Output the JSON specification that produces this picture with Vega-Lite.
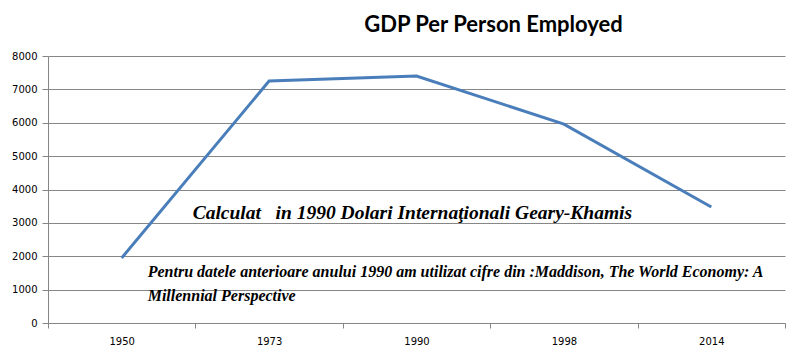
{
  "$schema": "https://vega.github.io/schema/vega-lite/v6.json",
  "width": 737,
  "height": 267,
  "autosize": "none",
  "padding": {"left": 48, "top": 56, "right": 24, "bottom": 37},
  "background": "white",
  "config": {
    "view": {"stroke": null},
    "font": "DejaVu Sans",
    "axisY": {
      "title": null,
      "values": [0, 1000, 2000, 3000, 4000, 5000, 6000, 7000, 8000],
      "format": "d",
      "grid": true,
      "gridColor": "#868686",
      "gridOpacity": 1,
      "domainColor": "#868686",
      "tickColor": "#868686",
      "tickSize": 6,
      "labelPadding": 5,
      "labelFont": "DejaVu Sans",
      "labelFontSize": 10,
      "labelColor": "#000000",
      "labelOverlap": false
    },
    "axisX": {
      "title": null,
      "labelAngle": 0,
      "grid": false,
      "tickBand": "extent",
      "domainColor": "#868686",
      "tickColor": "#868686",
      "tickSize": 5,
      "labelPadding": 8,
      "labelFont": "DejaVu Sans",
      "labelFontSize": 10,
      "labelColor": "#000000"
    }
  },
  "title": {
    "text": "GDP Per Person Employed",
    "font": "Lato",
    "fontWeight": "bold",
    "fontSize": 22,
    "color": "#000000",
    "anchor": "middle",
    "dx": 77,
    "dy": 26,
    "baseline": "alphabetic",
    "offset": 23
  },
  "layer": [
    {
      "data": {
        "values": [
          {"year": "1950", "gdp": 1950},
          {"year": "1973", "gdp": 7250},
          {"year": "1990", "gdp": 7400},
          {"year": "1998", "gdp": 5960},
          {"year": "2014", "gdp": 3475}
        ]
      },
      "mark": {"type": "line", "color": "#4A7EBB", "strokeWidth": 3},
      "encoding": {
        "x": {
          "field": "year",
          "type": "ordinal",
          "sort": null,
          "bandPosition": 0.5,
          "scale": {"type": "band", "paddingInner": 0, "paddingOuter": 0, "domain": ["1950", "1973", "1990", "1998", "2014"]}
        },
        "y": {
          "field": "gdp",
          "type": "quantitative",
          "scale": {"domain": [0, 8000], "nice": false}
        }
      }
    },
    {
      "data": {
        "values": [
          {"year": "1950", "pos": 3116, "label": "Calculat\u00a0\u00a0 in 1990 Dolari Internaţionali Geary-Khamis"}
        ]
      },
      "mark": {"type": "text", "align": "left", "baseline": "alphabetic", "font": "Liberation Serif", "fontStyle": "italic", "fontWeight": "bold", "fontSize": 19.5, "dx": 71, "color": "#000000"},
      "encoding": {
        "x": {"field": "year", "type": "ordinal", "bandPosition": 0.5},
        "y": {"field": "pos", "type": "quantitative"},
        "text": {"field": "label"}
      }
    },
    {
      "data": {
        "values": [
          {"year": "1950", "pos": 1378, "label": "Pentru datele anterioare anului 1990 am utilizat cifre din :Maddison, The World Economy: A"},
          {"year": "1950", "pos": 659, "label": "Millennial Perspective"}
        ]
      },
      "mark": {"type": "text", "align": "left", "baseline": "alphabetic", "font": "Liberation Serif", "fontStyle": "italic", "fontWeight": "bold", "fontSize": 16, "dx": 26, "color": "#000000"},
      "encoding": {
        "x": {"field": "year", "type": "ordinal", "bandPosition": 0.5},
        "y": {"field": "pos", "type": "quantitative"},
        "text": {"field": "label"}
      }
    }
  ]
}
